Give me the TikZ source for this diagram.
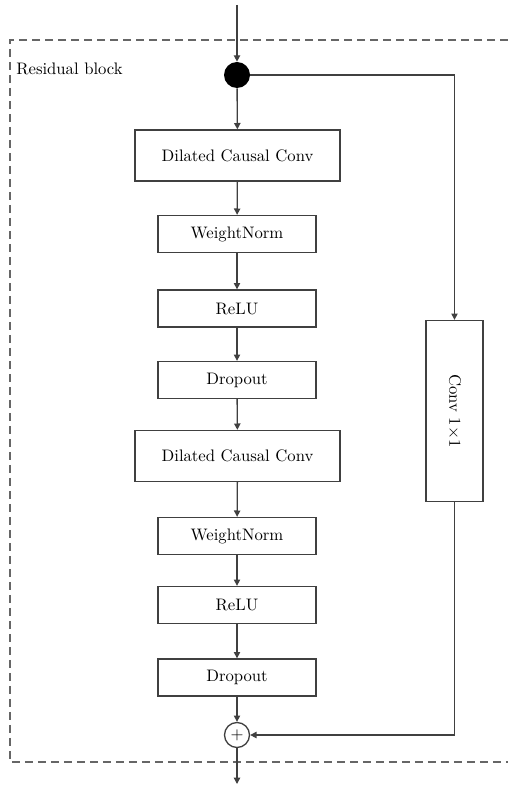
\documentclass[tikz,border=0pt]{standalone}
\usepackage{graphicx}
\usetikzlibrary{arrows.meta}
\tikzset{
  arrow/.style={line width=0.8pt, draw=black!75, -{Triangle[length=3.8pt,width=3.8pt]}},
  layer/.style={draw=black!75, line width=0.8pt, fill=white, minimum width=94.8pt, minimum height=22.2pt, inner sep=0pt},
  widelayer/.style={layer, minimum width=123pt, minimum height=30.6pt}
}

\begin{document}
\begin{tikzpicture}[x=0.6pt, y=-0.6pt]
  \useasboundingbox (0,0) rectangle (508,786);

  % Draw the dashed frame of the block
  \draw[black!60, line width=0.8pt, dash pattern=on 4.8pt off 3pt]
    (508,40) -- (10,40) -- (10,762) -- (508,762);
  \node[anchor=west, inner sep=0pt] (title) at (16,69) {Residual block};

  % Draw input and split point
  \coordinate (in) at (237,5);
  \node[circle, fill=black, minimum size=15.6pt, inner sep=0pt] (split) at (237,75) {};

  % Draw the main branch
  \node[widelayer] (conva) at (237.5,155.5) {Dilated Causal Conv};
  \node[layer] (norma) at (237,234) {WeightNorm};
  \node[layer] (relua) at (237,308.5) {ReLU};
  \node[layer] (dropa) at (237,380) {Dropout};
  \node[widelayer] (convb) at (237.5,456) {Dilated Causal Conv};
  \node[layer] (normb) at (237,536) {WeightNorm};
  \node[layer] (relub) at (237,605) {ReLU};
  \node[layer] (dropb) at (237,677.5) {Dropout};

  % Draw the shortcut and the sum
  \node[draw=black!75, line width=0.8pt, minimum width=34.2pt, minimum height=108.6pt, inner sep=0pt]
    (skip) at (454.5,411) {\rotatebox{-90}{Conv 1$\times$1}};
  \node[circle, draw=black!75, line width=0.8pt, minimum size=15pt, inner sep=0pt] (sum) at (237,735) {$+$};
  \coordinate (out) at (237,784);

  \draw[arrow] (in) -- (split);
  \draw[arrow] (split) -- (conva);
  \draw[arrow] (conva) -- (norma);
  \draw[arrow] (norma) -- (relua);
  \draw[arrow] (relua) -- (dropa);
  \draw[arrow] (dropa) -- (convb);
  \draw[arrow] (convb) -- (normb);
  \draw[arrow] (normb) -- (relub);
  \draw[arrow] (relub) -- (dropb);
  \draw[arrow] (dropb) -- (sum);
  \draw[arrow] (split.east) -| (skip.north);
  \draw[arrow] (skip.south) |- (sum.east);
  \draw[arrow] (sum) -- (out);
\end{tikzpicture}
\end{document}
